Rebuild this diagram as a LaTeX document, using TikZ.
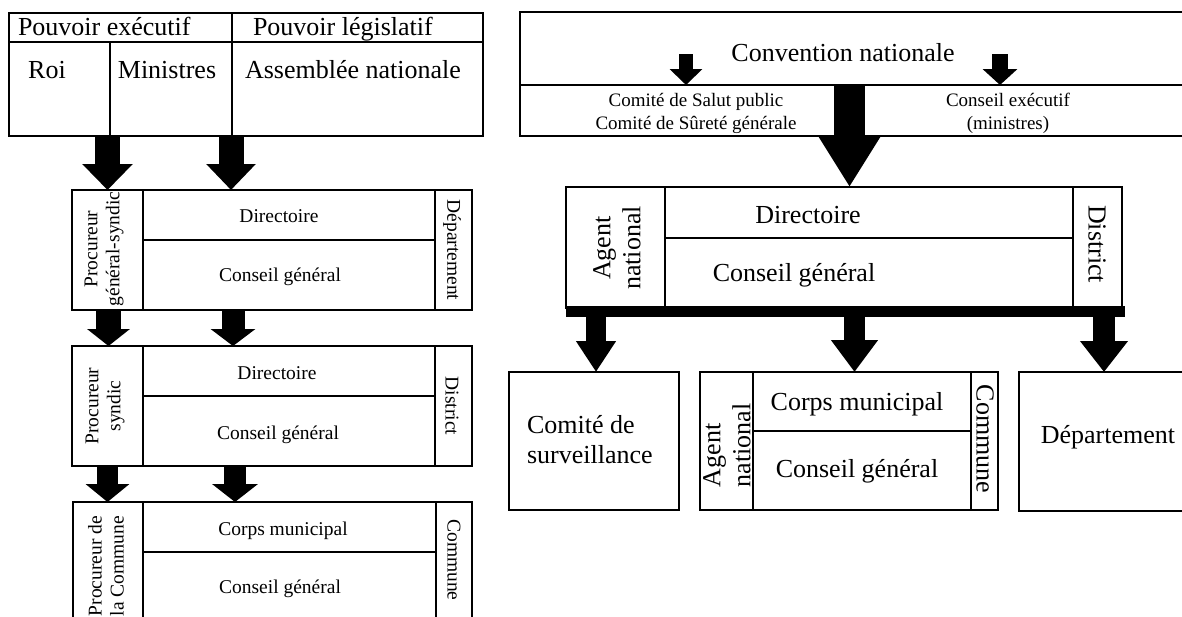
\documentclass[tikz,border=0pt]{standalone}
\usepackage{fontspec}
\setmainfont{Liberation Serif}
\usetikzlibrary{arrows.meta}
\tikzset{
  cell/.style={draw, line width=2.5pt, inner sep=0pt, outer sep=0pt, anchor=north west},
  bigtxt/.style={font=\fontsize{26}{30}\selectfont, inner sep=0pt, outer sep=0pt},
  smalltxt/.style={font=\fontsize{19.5}{22}\selectfont, inner sep=0pt, outer sep=0pt},
  midtxt/.style={font=\fontsize{19}{23}\selectfont, inner sep=0pt, outer sep=0pt, align=center},
  blk/.style n args={3}{line width=#1, line cap=butt, -{Triangle[width=#2,length=#3]}},
}
\newcommand\cellbox[5]{\node[cell,minimum width={(#4-#2)*1pt},minimum height={(#5-#3)*1pt}] (#1) at (#2,#3) {};}
\begin{document}
\begin{tikzpicture}[x=1pt,y=-1pt]
\useasboundingbox (0,0) rectangle (1182,616);
\fill[white] (0,0) rectangle (1182,616);
\clip (0,0) rectangle (1182,616);
% ---------- left: constitution 1791 ----------
\cellbox{exec}{9}{13}{232}{42}
\cellbox{legis}{232}{13}{483}{42}
\cellbox{roi}{9}{42}{110}{136}
\cellbox{min}{110}{42}{232}{136}
\cellbox{ass}{232}{42}{483}{136}
% box 1 departement
\cellbox{pgs}{72}{190}{143}{310}
\cellbox{dirA}{143}{190}{435}{240}
\cellbox{cgA}{143}{240}{435}{310}
\cellbox{depA}{435}{190}{472}{310}
% box 2 district
\cellbox{ps}{72}{346}{143}{466}
\cellbox{dirB}{143}{346}{435}{396}
\cellbox{cgB}{143}{396}{435}{466}
\cellbox{distB}{435}{346}{472}{466}
% box 3 commune
\cellbox{pc}{73}{502}{143}{632}
\cellbox{cmC}{143}{502}{436}{552}
\cellbox{cgC}{143}{552}{436}{632}
\cellbox{comC}{436}{502}{472}{632}
% ---------- right: 1793 ----------
\cellbox{conv}{520}{12}{1192}{85}
\cellbox{csp}{520}{85}{849}{136}
\cellbox{ce}{849}{85}{1192}{136}
\cellbox{anR}{566}{187}{665}{308}
\cellbox{dirR}{665}{187}{1073}{238}
\cellbox{cgR}{665}{238}{1073}{308}
\cellbox{distR}{1073}{187}{1122}{308}
\node[fill=black, inner sep=0pt, outer sep=0pt, anchor=north west, minimum width=559pt, minimum height=11pt] (barR) at (566,306) {};
\cellbox{cs}{509}{372}{679}{510}
\cellbox{anM}{700}{372}{753}{510}
\cellbox{cmM}{753}{372}{971}{431}
\cellbox{cgM}{753}{431}{971}{510}
\cellbox{comM}{971}{372}{998}{510}
\cellbox{depR}{1019}{372}{1192}{511}
% ---------- arrows ----------
\draw[blk={25pt}{49pt}{26pt}] (107.5,0 |- roi.south) -- (107.5,0 |- pgs.north);
\draw[blk={25pt}{48pt}{26pt}] (231,0 |- ass.south) -- (231,0 |- dirA.north);
\draw[blk={25pt}{42pt}{17pt}] (108.5,0 |- pgs.south) -- (108.5,0 |- ps.north);
\draw[blk={23pt}{44pt}{17pt}] (233,0 |- cgA.south) -- (233,0 |- dirB.north);
\draw[blk={21pt}{43pt}{18pt}] (107.5,0 |- ps.south) -- (107.5,0 |- pc.north);
\draw[blk={22pt}{45pt}{18pt}] (235,0 |- cgB.south) -- (235,0 |- cmC.north);
\coordinate (s1) at (686,54);
\coordinate (s2) at (1000,54);
\draw[blk={14pt}{32pt}{16pt}] (s1) -- (s1 |- csp.north);
\draw[blk={16pt}{34pt}{16pt}] (s2) -- (s2 |- ce.north);
\draw[blk={31pt}{59pt}{51pt}] (849.5,0 |- conv.south) -- (849.5,0 |- dirR.north);
\draw[blk={20pt}{38pt}{31pt}] (596,0 |- barR.south) -- (596,0 |- cs.north);
\draw[blk={21pt}{45pt}{32pt}] (854.5,0 |- barR.south) -- (854.5,0 |- cmM.north);
\draw[blk={22pt}{46pt}{31pt}] (1104,0 |- barR.south) -- (1104,0 |- depR.north);
% ---------- texts left ----------
\node[bigtxt, anchor=base west] (tpe) at (18,35) {Pouvoir exécutif};
\node[bigtxt, anchor=base west] (tpl) at (253,35) {Pouvoir législatif};
\node[bigtxt, anchor=base] (troi) at (47,78) {Roi};
\node[bigtxt, anchor=base] (tmin) at (167,78) {Ministres};
\node[bigtxt, anchor=base] (tass) at (353,78) {Assemblée nationale};
\node[smalltxt, anchor=base] (tdA) at (279,222) {Directoire};
\node[smalltxt, anchor=base] (tcA) at (280,281) {Conseil général};
\node[smalltxt, rotate=90, align=center] (tpgs) at (104,249) {Procureur\\général-syndic};
\node[smalltxt, rotate=-90] (tdepA) at (452,250) {Département};
\node[smalltxt, anchor=base] (tdB) at (277,379) {Directoire};
\node[smalltxt, anchor=base] (tcB) at (278,439) {Conseil général};
\node[smalltxt, rotate=90, align=center] (tps) at (105,406) {Procureur\\syndic};
\node[smalltxt, rotate=-90] (tdistB) at (452,406) {District};
\node[smalltxt, anchor=base] (tcmC) at (283,535) {Corps municipal};
\node[smalltxt, anchor=base] (tcgC) at (280,593) {Conseil général};
\node[smalltxt, rotate=90, align=center] (tpc) at (106,566) {Procureur de\\la Commune};
\node[smalltxt, rotate=-90] (tcomC) at (454,560) {Commune};
% ---------- texts right ----------
\node[bigtxt, anchor=base] (tconv) at (843,61) {Convention nationale};
\node[midtxt] (tcsp) at (696,113) {Comité de Salut public\\Comité de Sûreté générale};
\node[midtxt] (tce) at (1008,113) {Conseil exécutif\\(ministres)};
\node[bigtxt, rotate=90, align=center] (tanR) at (617,248) {Agent\\national};
\node[bigtxt, anchor=base] (tdR) at (808,223) {Directoire};
\node[bigtxt, anchor=base] (tcR) at (794,281) {Conseil général};
\node[bigtxt, rotate=-90] (tdistR) at (1097,244) {District};
\node[bigtxt, anchor=west, align=left] (tcs) at (527,440) {Comité de\\surveillance};
\node[bigtxt, rotate=90, anchor=west, align=left] (tanM) at (727,487) {Agent\\national};
\node[bigtxt, anchor=base] (tcmM) at (857,410) {Corps municipal};
\node[bigtxt, anchor=base] (tcgM) at (857,477) {Conseil général};
\node[bigtxt, rotate=-90] (tcomM) at (985,439) {Commune};
\node[bigtxt, anchor=base] (tdepR) at (1108,443) {Département};
\end{tikzpicture}
\end{document}
